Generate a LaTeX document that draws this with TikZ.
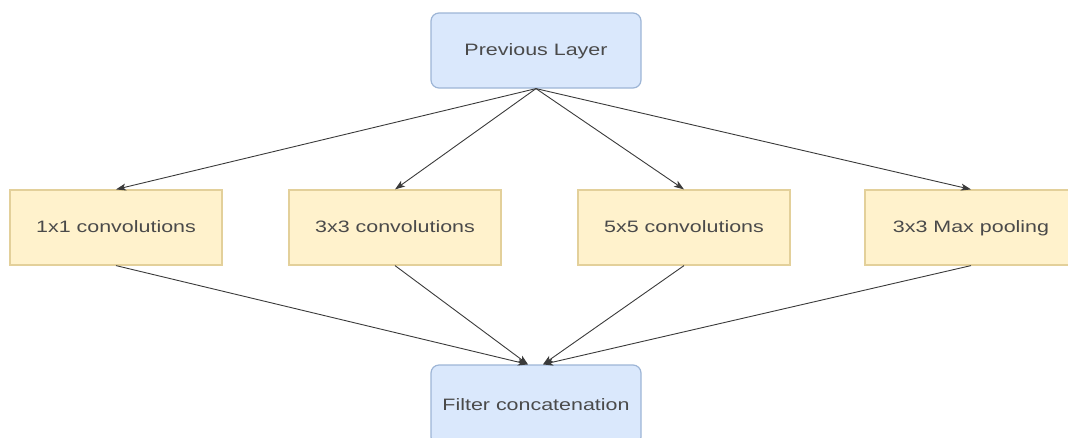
\documentclass[tikz,border=0pt]{standalone}
\usepackage{fontspec}
\setmainfont{Liberation Sans}[FakeStretch=1.3]
\usetikzlibrary{arrows.meta,calc}
\definecolor{bluefill}{HTML}{DAE8FC}
\definecolor{bluedraw}{HTML}{9DB5D6}
\definecolor{yellowfill}{HTML}{FFF2CC}
\definecolor{yellowdraw}{HTML}{E3D09A}
\definecolor{txt}{HTML}{4A4A4A}
\definecolor{wire}{HTML}{3A3A3A}
\tikzset{
  boxtext/.style={text=txt, font=\fontsize{16.5}{18}\selectfont,
    text height=12pt, text depth=2pt},
  layerbox/.style={boxtext, draw=bluedraw, fill=bluefill, rounded corners=8pt, line width=1.2pt,
    minimum width=210pt, minimum height=75pt, inner sep=0pt},
  opbox/.style={boxtext, draw=yellowdraw, fill=yellowfill, line width=1.2pt,
    minimum width=212pt, minimum height=75pt, inner sep=0pt},
  flow/.style={draw=wire, line width=0.9pt,
    -{Stealth[length=10pt, width=7pt, inset=2.5pt]}}
}
\begin{document}
\begin{tikzpicture}[x=1pt, y=-1pt]
  \useasboundingbox (0,0) rectangle (1068,437);

  % input and output layers
  \node[layerbox] (prev) at (536,50.5) {Previous Layer};
  \node[layerbox, minimum height=80pt] (concat) at (536,405) {Filter concatenation};

  % parallel branches
  \node[opbox] (c1) at (116,227.5) {1x1 convolutions};
  \node[opbox] (c3) at (395,227.5) {3x3 convolutions};
  \node[opbox] (c5) at (684,227.5) {5x5 convolutions};
  \node[opbox] (mp) at (971,227.5) {3x3 Max pooling};

  % fan out from the previous layer
  \foreach \b in {c1,c3,c5,mp}
    \draw[flow] (prev.south) -- (\b.north);

  % fan in to the concatenation
  \draw[flow] (c1.south) -- ($(concat.north)+(-8,0)$);
  \draw[flow] (c3.south) -- ($(concat.north)+(-8,0)$);
  \draw[flow] (c5.south) -- ($(concat.north)+(7,0)$);
  \draw[flow] (mp.south) -- ($(concat.north)+(7,0)$);
\end{tikzpicture}
\end{document}
